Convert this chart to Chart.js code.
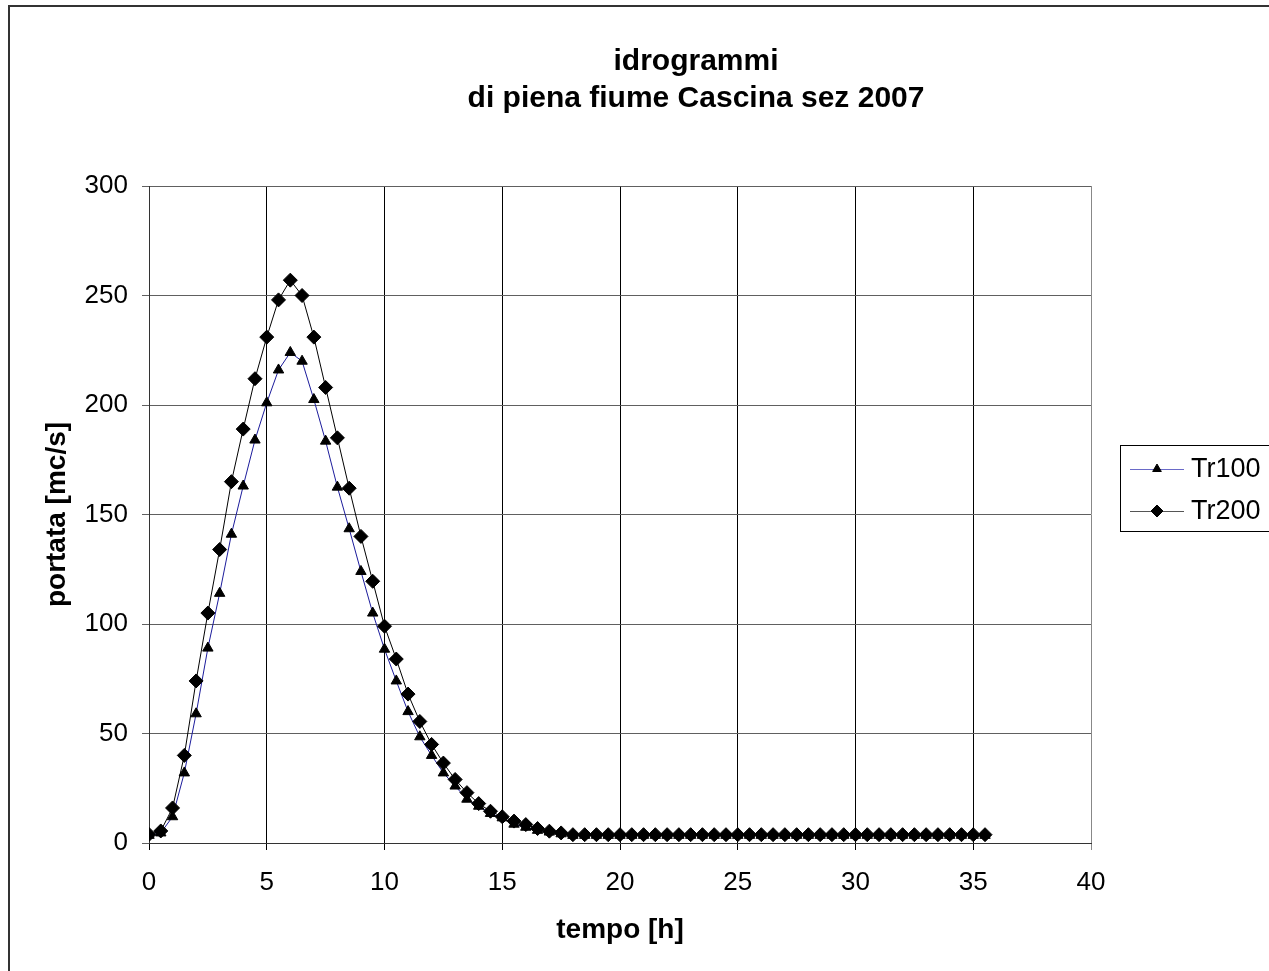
<!DOCTYPE html>
<html>
<head>
<meta charset="utf-8">
<title>idrogrammi</title>
<script src="https://cdn.jsdelivr.net/npm/chart.js@4"></script>
<style>
    body { margin: 0; background: #fff; }
    canvas { display: block; }
</style>
</head>
<body>
<canvas id="idrogrammi" width="1269" height="971"></canvas>
<script>
// Dati degli idrogrammi (passo 0.5 h)
var tempo = [
    0, 0.5, 1, 1.5, 2, 2.5, 3, 3.5, 4, 4.5, 5, 5.5, 6, 6.5, 7, 7.5, 8, 8.5,
    9, 9.5, 10, 10.5, 11, 11.5, 12, 12.5, 13, 13.5, 14, 14.5, 15, 15.5, 16, 16.5, 17, 17.5,
    18, 18.5, 19, 19.5, 20, 20.5, 21, 21.5, 22, 22.5, 23, 23.5, 24, 24.5, 25, 25.5, 26, 26.5,
    27, 27.5, 28, 28.5, 29, 29.5, 30, 30.5, 31, 31.5, 32, 32.5, 33, 33.5, 34, 34.5, 35, 35.5
];

var tr100 = [
    3.5, 4.6, 12, 32, 59, 89, 114, 141, 163, 184, 201, 216, 224, 220, 202.5, 183.5, 162.5, 143.5,
    124, 105, 88.5, 74, 60, 48.5, 40, 32, 26, 20, 16.8, 13.5, 11.5, 8.6, 7.2, 5.8, 5, 4.2,
    3.5, 3.5, 3.5, 3.5, 3.5, 3.5, 3.5, 3.5, 3.5, 3.5, 3.5, 3.5, 3.5, 3.5, 3.5, 3.5, 3.5, 3.5,
    3.5, 3.5, 3.5, 3.5, 3.5, 3.5, 3.5, 3.5, 3.5, 3.5, 3.5, 3.5, 3.5, 3.5, 3.5, 3.5, 3.5, 3.5
];

var tr200 = [
    3.9, 5.5, 16, 40, 74, 105, 134, 165, 189, 212, 231, 248, 257, 250, 231, 208, 185, 162,
    140, 119.5, 99, 84, 68, 55.5, 45, 36.5, 29, 23, 18, 14.5, 12, 10, 8.4, 6.6, 5.4, 4.6,
    3.8, 3.8, 3.8, 3.8, 3.8, 3.8, 3.8, 3.8, 3.8, 3.8, 3.8, 3.8, 3.8, 3.8, 3.8, 3.8, 3.8, 3.8,
    3.8, 3.8, 3.8, 3.8, 3.8, 3.8, 3.8, 3.8, 3.8, 3.8, 3.8, 3.8, 3.8, 3.8, 3.8, 3.8, 3.8, 3.8
];

var titolo = ["idrogrammi", "di piena fiume Cascina sez 2007"];
var nomiSerie = ["Tr100", "Tr200"];
var tickX = [0, 5, 10, 15, 20, 25, 30, 35, 40];
var tickY = [0, 50, 100, 150, 200, 250, 300];

function punti(valori) {
    return tempo.map(function (t, i) {
        return { x: t, y: valori[i] };
    });
}

Chart.defaults.font.family = "'Liberation Sans', Arial, sans-serif";
Chart.defaults.color = "#000";

// Cornice esterna e titolo su due righe
var cornice = {
    id: "cornice",
    beforeDraw: function (chart) {
        var ctx = chart.ctx;
        ctx.save();
        ctx.fillStyle = "#fff";
        ctx.fillRect(0, 0, chart.width, chart.height);
        ctx.strokeStyle = "#333";
        ctx.lineWidth = 2;
        ctx.strokeRect(9, 6, chart.width + 50, chart.height + 50);
        ctx.restore();
    },
    afterDraw: function (chart) {
        var ctx = chart.ctx;
        ctx.save();
        ctx.fillStyle = "#000";
        ctx.font = "bold 30px 'Liberation Sans', Arial, sans-serif";
        ctx.textAlign = "center";
        ctx.textBaseline = "middle";
        ctx.fillText(titolo[0], 696, 62);
        ctx.fillText(titolo[1], 696, 99);
        ctx.restore();
    }
};

// Legenda nel riquadro a destra
var legenda = {
    id: "legenda",
    afterDraw: function (chart) {
        var ctx = chart.ctx;
        ctx.save();
        ctx.strokeStyle = "#000";
        ctx.lineWidth = 1;
        ctx.strokeRect(1120.5, 445.5, 200, 86);
        var righe = [469, 511];
        chart.data.datasets.forEach(function (ds, i) {
            var y = righe[i];
            ctx.strokeStyle = i === 0 ? "#6a6ac8" : "#555";
            ctx.lineWidth = 1;
            ctx.beginPath();
            ctx.moveTo(1130, y + 0.5);
            ctx.lineTo(1184, y + 0.5);
            ctx.stroke();
            ctx.fillStyle = "#000";
            ctx.strokeStyle = "#000";
            Chart.helpers.drawPoint(ctx, {
                pointStyle: ds.pointStyle,
                radius: ds.pointStyle === "triangle" ? 5 : 6,
                rotation: 0,
                borderWidth: 1
            }, 1157, y);
            ctx.font = "27px 'Liberation Sans', Arial, sans-serif";
            ctx.textAlign = "left";
            ctx.textBaseline = "middle";
            ctx.fillText(ds.label, 1191, y + 1);
        });
        ctx.restore();
    }
};

new Chart(document.getElementById("idrogrammi").getContext("2d"), {
    type: "line",
    data: {
        datasets: [
            {
                label: nomiSerie[0],
                data: punti(tr100),
                borderColor: "#1c1c9c",
                borderWidth: 1,
                pointStyle: "triangle",
                pointRadius: 6,
                pointBackgroundColor: "#000",
                pointBorderColor: "#000",
                pointBorderWidth: 1,
                tension: 0,
                order: 1
            },
            {
                label: nomiSerie[1],
                data: punti(tr200),
                borderColor: "#000",
                borderWidth: 1,
                pointStyle: "rectRot",
                pointRadius: 7,
                pointBackgroundColor: "#000",
                pointBorderColor: "#000",
                pointBorderWidth: 1,
                tension: 0,
                order: 0
            }
        ]
    },
    options: {
        responsive: false,
        animation: false,
        layout: { padding: { top: 186, right: 178, bottom: 0, left: 0 } },
        plugins: {
            legend: { display: false },
            title: { display: false },
            tooltip: { enabled: false }
        },
        scales: {
            x: {
                type: "linear",
                min: tickX[0],
                max: tickX[tickX.length - 1],
                afterBuildTicks: function (scale) {
                    scale.ticks = tickX.map(function (v) { return { value: v }; });
                },
                afterFit: function (scale) { scale.height = 128; },
                grid: {
                    color: function (c) { return c.tick && c.tick.value === 40 ? "#888" : "#000"; },
                    lineWidth: 1,
                    tickLength: 7
                },
                border: { color: "#333", width: 1 },
                ticks: { font: { size: 26 }, padding: 17, color: "#000", maxRotation: 0 },
                title: {
                    display: true,
                    text: "tempo [h]",
                    font: { size: 28, weight: "bold" },
                    padding: { top: 24, bottom: 24 },
                    color: "#000"
                }
            },
            y: {
                min: tickY[0],
                max: tickY[tickY.length - 1],
                afterBuildTicks: function (scale) {
                    scale.ticks = tickY.map(function (v) { return { value: v }; });
                },
                afterFit: function (scale) { scale.width = 149; },
                grid: { color: "#606060", lineWidth: 1, tickLength: 7 },
                border: { color: "#333", width: 1 },
                ticks: { font: { size: 26 }, padding: 14, color: "#000" },
                title: {
                    display: true,
                    text: "portata [mc/s]",
                    font: { size: 28, weight: "bold" },
                    padding: { top: 40, bottom: 0 },
                    color: "#000"
                }
            }
        }
    },
    plugins: [cornice, legenda]
});
</script>
</body>
</html>
